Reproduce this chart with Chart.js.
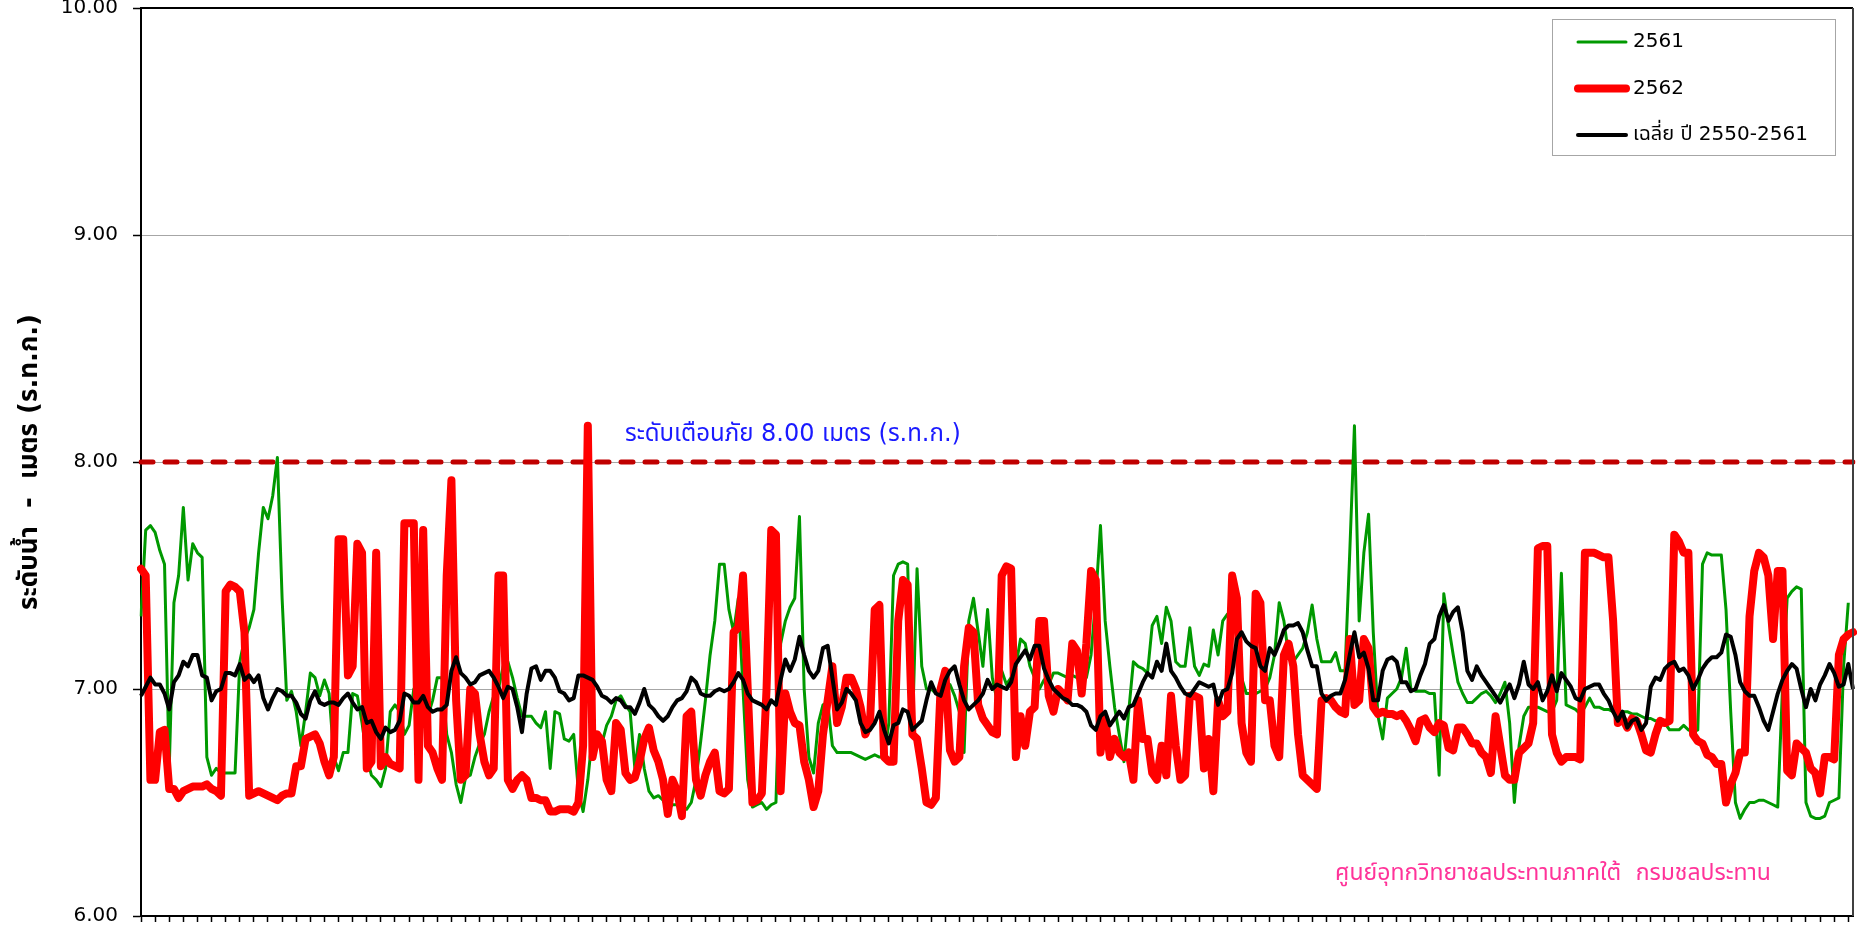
<!DOCTYPE html>
<html>
<head>
<meta charset="utf-8">
<script src="https://cdn.jsdelivr.net/npm/chart.js@4.4.1/dist/chart.umd.min.js"></script>
<style>
  html, body { margin: 0; padding: 0; background: #fff; }
  #wrap { width: 1859px; height: 929px; }
</style>
</head>
<body>
<div id="wrap"><canvas id="myChart" width="1859" height="929"></canvas></div>
<script>
// water level, one value per day (m, ร.ท.ก.)
const y2561 = [
	7.32, 7.70, 7.72, 7.69, 7.61, 7.55, 6.65, 7.38, 7.50, 7.80,
	7.48, 7.64, 7.60, 7.58, 6.70, 6.62, 6.65, 6.63, 6.63, 6.63,
	6.63, 7.12, 7.22, 7.27, 7.35, 7.60, 7.80, 7.75, 7.85, 8.02,
	7.40, 6.95, 6.99, 6.90, 6.75, 6.90, 7.07, 7.05, 6.97, 7.04,
	6.98, 6.70, 6.64, 6.72, 6.72, 6.98, 6.97, 6.85, 6.70, 6.62,
	6.60, 6.57, 6.65, 6.90, 6.93, 6.90, 6.80, 6.84, 7.00, 6.98,
	6.96, 6.88, 6.95, 7.05, 7.05, 6.80, 6.72, 6.58, 6.50, 6.61,
	6.62, 6.70, 6.76, 6.80, 6.90, 6.97, 7.00, 7.10, 7.12, 7.05,
	6.96, 6.88, 6.88, 6.88, 6.85, 6.83, 6.90, 6.65, 6.90, 6.89,
	6.78, 6.77, 6.80, 6.55, 6.46, 6.60, 6.80, 6.78, 6.76, 6.84,
	6.88, 6.95, 6.97, 6.93, 6.90, 6.65, 6.80, 6.65, 6.55, 6.52,
	6.53, 6.51, 6.47, 6.49, 6.49, 6.48, 6.47, 6.50, 6.60, 6.77,
	6.95, 7.15, 7.30, 7.55, 7.55, 7.35, 7.25, 7.40, 7.00, 6.60,
	6.48, 6.49, 6.50, 6.47, 6.49, 6.50, 7.20, 7.30, 7.36, 7.40,
	7.76, 7.00, 6.70, 6.63, 6.85, 6.93, 6.94, 6.75, 6.72, 6.72,
	6.72, 6.72, 6.71, 6.70, 6.69, 6.70, 6.71, 6.70, 6.70, 6.85,
	7.50, 7.55, 7.56, 7.55, 6.80, 7.53, 7.10, 7.00, 7.00, 6.98,
	6.98, 6.98, 7.02, 6.97, 6.90, 6.72, 7.30, 7.40, 7.25, 7.10,
	7.35, 7.05, 6.95, 7.08, 7.02, 7.05, 7.10, 7.22, 7.20, 7.10,
	7.05, 7.00, 7.04, 7.02, 7.07, 7.07, 7.06, 7.05, 7.06, 7.05,
	7.04, 7.05, 7.15, 7.40, 7.72, 7.30, 7.10, 6.92, 6.80, 6.68,
	6.90, 7.12, 7.10, 7.09, 7.07, 7.28, 7.32, 7.20, 7.36, 7.30,
	7.12, 7.10, 7.10, 7.27, 7.10, 7.06, 7.11, 7.10, 7.26, 7.15,
	7.30, 7.33, 7.33, 7.40, 7.05, 6.98, 6.98, 6.98, 6.99, 7.00,
	7.05, 7.15, 7.38, 7.30, 7.15, 7.12, 7.15, 7.18, 7.25, 7.37,
	7.22, 7.12, 7.12, 7.12, 7.16, 7.08, 7.08, 7.60, 8.16, 7.30,
	7.60, 7.77, 7.25, 6.88, 6.78, 6.96, 6.98, 7.00, 7.05, 7.18,
	7.00, 6.99, 6.99, 6.99, 6.98, 6.98, 6.62, 7.42, 7.28, 7.15,
	7.03, 6.98, 6.94, 6.94, 6.96, 6.98, 6.99, 6.97, 6.94, 6.98,
	7.03, 6.85, 6.50, 6.75, 6.88, 6.92, 6.92, 6.92, 6.91, 6.90,
	6.90, 6.95, 7.51, 6.93, 6.92, 6.91, 6.89, 6.92, 6.96, 6.92,
	6.92, 6.91, 6.91, 6.90, 6.90, 6.90, 6.90, 6.89, 6.89, 6.88,
	6.87, 6.87, 6.86, 6.86, 6.85, 6.82, 6.82, 6.82, 6.84, 6.82,
	6.81, 6.82, 7.55, 7.60, 7.59, 7.59, 7.59, 7.35, 6.90, 6.50,
	6.43, 6.47, 6.50, 6.50, 6.51, 6.51, 6.50, 6.49, 6.48, 7.00,
	7.40, 7.43, 7.45, 7.44, 6.50, 6.44, 6.43, 6.43, 6.44, 6.50,
	6.51, 6.52, 7.10, 7.38
];

const y2562 = [
	7.53, 7.50, 6.60, 6.60, 6.81, 6.82, 6.56, 6.56, 6.52, 6.55,
	6.56, 6.57, 6.57, 6.57, 6.58, 6.56, 6.55, 6.53, 7.43, 7.46,
	7.45, 7.43, 7.25, 6.53, 6.54, 6.55, 6.54, 6.53, 6.52, 6.51,
	6.53, 6.54, 6.54, 6.66, 6.66, 6.78, 6.79, 6.80, 6.76, 6.68,
	6.62, 6.70, 7.66, 7.66, 7.06, 7.10, 7.64, 7.60, 6.65, 6.68,
	7.60, 6.66, 6.70, 6.67, 6.66, 6.65, 7.73, 7.73, 7.73, 6.60,
	7.70, 6.75, 6.72, 6.65, 6.60, 7.50, 7.92, 6.95, 6.60, 6.62,
	7.00, 6.98, 6.80, 6.68, 6.62, 6.65, 7.50, 7.50, 6.60, 6.56,
	6.60, 6.62, 6.60, 6.52, 6.52, 6.51, 6.51, 6.46, 6.46, 6.47,
	6.47, 6.47, 6.46, 6.50, 6.75, 8.16, 6.70, 6.80, 6.77, 6.60,
	6.55, 6.85, 6.82, 6.63, 6.60, 6.61, 6.68, 6.78, 6.83, 6.73,
	6.68, 6.60, 6.45, 6.60, 6.55, 6.44, 6.88, 6.90, 6.60, 6.53,
	6.62, 6.68, 6.72, 6.55, 6.54, 6.56, 7.25, 7.27, 7.50, 7.00,
	6.50, 6.51, 6.54, 7.00, 7.70, 7.68, 6.55, 6.98, 6.90, 6.85,
	6.84, 6.68, 6.60, 6.48, 6.55, 6.80, 6.95, 7.10, 6.85, 6.92,
	7.05, 7.05, 7.00, 6.92, 6.80, 6.85, 7.35, 7.37, 6.70, 6.68,
	6.68, 7.30, 7.48, 7.46, 6.80, 6.78, 6.65, 6.50, 6.49, 6.52,
	7.00, 7.08, 6.73, 6.68, 6.70, 7.10, 7.27, 7.25, 6.93, 6.87,
	6.84, 6.81, 6.80, 7.50, 7.54, 7.53, 6.70, 6.88, 6.75, 6.90,
	6.92, 7.30, 7.30, 6.97, 6.90, 7.00, 6.98, 6.95, 7.20, 7.17,
	6.98, 7.20, 7.52, 7.48, 6.72, 6.87, 6.70, 6.78, 6.72, 6.70,
	6.72, 6.60, 6.95, 6.78, 6.78, 6.63, 6.60, 6.75, 6.62, 6.97,
	6.75, 6.60, 6.62, 6.97, 6.97, 6.96, 6.65, 6.78, 6.55, 6.95,
	6.88, 6.90, 7.50, 7.40, 6.85, 6.72, 6.68, 7.42, 7.38, 6.95,
	6.95, 6.75, 6.70, 7.15, 7.20, 7.10, 6.80, 6.62, 6.60, 6.58,
	6.56, 6.95, 6.96, 6.95, 6.92, 6.90, 6.89, 7.22, 6.93, 6.95,
	7.22, 7.18, 6.92, 6.89, 6.90, 6.89, 6.89, 6.88, 6.89, 6.86,
	6.82, 6.77, 6.86, 6.87, 6.83, 6.81, 6.85, 6.84, 6.74, 6.73,
	6.83, 6.83, 6.80, 6.76, 6.76, 6.72, 6.70, 6.63, 6.88, 6.75,
	6.62, 6.60, 6.60, 6.72, 6.74, 6.76, 6.85, 7.62, 7.63, 7.63,
	6.80, 6.72, 6.68, 6.70, 6.70, 6.70, 6.69, 7.60, 7.60, 7.60,
	7.59, 7.58, 7.58, 7.30, 6.85, 6.87, 6.83, 6.87, 6.86, 6.80,
	6.73, 6.72, 6.80, 6.86, 6.85, 6.86, 7.68, 7.65, 7.60, 7.60,
	6.80, 6.77, 6.76, 6.71, 6.70, 6.67, 6.67, 6.50, 6.58, 6.63,
	6.72, 6.72, 7.32, 7.52, 7.60, 7.58, 7.50, 7.22, 7.52, 7.52,
	6.64, 6.62, 6.76, 6.74, 6.72, 6.65, 6.63, 6.54, 6.70, 6.70,
	6.69, 7.15, 7.22, 7.24, 7.25
];

const yAvg = [
	6.97, 7.01, 7.05, 7.02, 7.02, 6.98, 6.91, 7.03, 7.06, 7.12,
	7.10, 7.15, 7.15, 7.06, 7.05, 6.95, 6.99, 7.00, 7.07, 7.07,
	7.06, 7.11, 7.04, 7.06, 7.03, 7.06, 6.96, 6.91, 6.96, 7.00,
	6.99, 6.97, 6.97, 6.94, 6.89, 6.87, 6.95, 6.99, 6.94, 6.93,
	6.94, 6.94, 6.93, 6.96, 6.98, 6.94, 6.91, 6.92, 6.85, 6.86,
	6.81, 6.78, 6.83, 6.81, 6.82, 6.86, 6.98, 6.97, 6.94, 6.94,
	6.97, 6.92, 6.90, 6.91, 6.91, 6.93, 7.08, 7.14, 7.07, 7.05,
	7.02, 7.03, 7.06, 7.07, 7.08, 7.05, 7.01, 6.96, 7.01, 7.00,
	6.92, 6.81, 6.98, 7.09, 7.10, 7.04, 7.08, 7.08, 7.05, 6.99,
	6.98, 6.95, 6.96, 7.06, 7.06, 7.05, 7.04, 7.01, 6.97, 6.96,
	6.94, 6.96, 6.95, 6.92, 6.92, 6.89, 6.94, 7.00, 6.93, 6.91,
	6.88, 6.86, 6.88, 6.92, 6.95, 6.96, 6.99, 7.05, 7.03, 6.98,
	6.97, 6.97, 6.99, 7.00, 6.99, 7.00, 7.03, 7.07, 7.04, 6.98,
	6.95, 6.94, 6.93, 6.91, 6.95, 6.93, 7.04, 7.13, 7.08, 7.13,
	7.23, 7.15, 7.08, 7.05, 7.08, 7.18, 7.19, 7.05, 6.91, 6.94,
	7.00, 6.98, 6.95, 6.85, 6.81, 6.82, 6.85, 6.90, 6.82, 6.76,
	6.84, 6.85, 6.91, 6.90, 6.82, 6.84, 6.86, 6.95, 7.03, 6.98,
	6.97, 7.04, 7.08, 7.10, 7.02, 6.95, 6.91, 6.93, 6.95, 6.98,
	7.04, 7.00, 7.02, 7.01, 7.00, 7.03, 7.11, 7.14, 7.17, 7.13,
	7.19, 7.19, 7.09, 7.04, 7.00, 6.98, 6.96, 6.95, 6.93, 6.93,
	6.92, 6.90, 6.84, 6.82, 6.88, 6.90, 6.84, 6.87, 6.90, 6.87,
	6.92, 6.93, 6.98, 7.03, 7.07, 7.05, 7.12, 7.08, 7.20, 7.08,
	7.05, 7.01, 6.98, 6.97, 7.00, 7.03, 7.02, 7.01, 7.02, 6.93,
	6.99, 7.00, 7.07, 7.22, 7.25, 7.21, 7.19, 7.18, 7.10, 7.08,
	7.18, 7.15, 7.20, 7.26, 7.28, 7.28, 7.29, 7.25, 7.17, 7.10,
	7.10, 6.98, 6.95, 6.97, 6.98, 6.98, 7.04, 7.15, 7.25, 7.14,
	7.16, 7.09, 6.95, 6.95, 7.08, 7.13, 7.14, 7.12, 7.03, 7.03,
	6.99, 7.00, 7.06, 7.11, 7.20, 7.22, 7.32, 7.37, 7.30, 7.34,
	7.36, 7.25, 7.08, 7.04, 7.10, 7.06, 7.03, 7.00, 6.97, 6.94,
	6.98, 7.02, 6.96, 7.02, 7.12, 7.02, 7.00, 7.03, 6.95, 6.99,
	7.06, 6.99, 7.07, 7.04, 7.01, 6.96, 6.95, 7.00, 7.01, 7.02,
	7.02, 6.98, 6.95, 6.90, 6.86, 6.90, 6.83, 6.86, 6.87, 6.82,
	6.85, 7.01, 7.05, 7.04, 7.09, 7.11, 7.12, 7.08, 7.09, 7.06,
	7.00, 7.04, 7.09, 7.12, 7.14, 7.14, 7.16, 7.24, 7.23, 7.15,
	7.03, 6.99, 6.97, 6.97, 6.92, 6.86, 6.82, 6.90, 6.98, 7.04,
	7.08, 7.11, 7.09, 7.00, 6.92, 7.00, 6.95, 7.02, 7.06, 7.11,
	7.07, 7.01, 7.02, 7.11, 7.00
];

const days = yAvg.map((v, i) => i + 1);
const warningLevel = 8.00;
const yTicks = [6, 7, 8, 9, 10];

const seriesNames = ["2561", "2562", "เฉลี่ย ปี 2550-2561"];
const warningText = "ระดับเตือนภัย 8.00 เมตร (ร.ท.ก.)";
const sourceText = "ศูนย์อุทกวิทยาชลประทานภาคใต้  กรมชลประทาน";
const yTitle = "ระดับน้ำ  -  เมตร (ร.ท.ก.)";

const FONT = "'DejaVu Sans', 'Noto Sans Thai', 'Noto Sans', sans-serif";
Chart.defaults.font.family = FONT;
Chart.defaults.color = "#000";

// legend box, warning label, source label and the top/right frame
const overlay = {
	id: 'overlay',
	afterDatasetsDraw(chart) {
		const { ctx, chartArea: a, scales } = chart;
		ctx.save();

		ctx.lineWidth = 2;
		ctx.strokeStyle = "#000";
		ctx.beginPath();
		ctx.moveTo(a.left, a.top);
		ctx.lineTo(a.right, a.top);
		ctx.stroke();
		ctx.strokeStyle = "#404040";
		ctx.beginPath();
		ctx.moveTo(a.right, a.top);
		ctx.lineTo(a.right, a.bottom);
		ctx.stroke();

		ctx.textBaseline = "middle";
		ctx.textAlign = "left";
		ctx.font = "24px " + FONT;
		ctx.fillStyle = "#1a1aff";
		ctx.fillText(warningText, 625, scales.y.getPixelForValue(warningLevel) - 27);

		ctx.font = "23px " + FONT;
		ctx.fillStyle = "#ff3399";
		ctx.fillText(sourceText, 1335, 874);

		// legend
		ctx.fillStyle = "#fff";
		ctx.fillRect(1552, 19, 283, 136);
		ctx.strokeStyle = "#a6a6a6";
		ctx.lineWidth = 1;
		ctx.strokeRect(1552.5, 19.5, 283, 136);
		[0, 1, 2].forEach((k, row) => {
			const ds = chart.data.datasets.find(d => d.label === seriesNames[k]);
			const yy = 42 + row * 46.5;
			ctx.strokeStyle = ds.borderColor;
			ctx.lineWidth = ds.borderWidth;
			ctx.lineCap = "round";
			ctx.beginPath();
			ctx.moveTo(1578, yy);
			ctx.lineTo(1626, yy);
			ctx.stroke();
			ctx.fillStyle = "#000";
			ctx.font = "20px " + FONT;
			ctx.fillText(ds.label, 1633, yy);
		});
		ctx.restore();
	}
};

const ctx = document.getElementById('myChart');

new Chart(ctx, {
	type: 'line',
	data: {
		labels: days,
		datasets: [
			{
				label: seriesNames[2],
				data: yAvg,
				borderColor: "#000000",
				borderWidth: 4,
				pointRadius: 0,
				borderJoinStyle: "round",
				order: 0
			},
			{
				label: seriesNames[1],
				data: y2562,
				borderColor: "#ff0000",
				borderWidth: 8,
				pointRadius: 0,
				borderJoinStyle: "round",
				borderCapStyle: "round",
				order: 1
			},
			{
				label: seriesNames[0],
				data: y2561,
				borderColor: "#009900",
				borderWidth: 3,
				pointRadius: 0,
				borderJoinStyle: "round",
				order: 2
			},
			{
				label: "warning",
				data: days.map(() => warningLevel),
				borderColor: "#c00000",
				borderWidth: 5,
				borderDash: [12, 12],
				borderCapStyle: "round",
				pointRadius: 0,
				order: 3
			}
		]
	},
	options: {
		responsive: false,
		animation: false,
		devicePixelRatio: 1,
		layout: { padding: { top: 8, right: 6, bottom: 0, left: 0 } },
		plugins: {
			legend: { display: false },
			tooltip: { enabled: false }
		},
		scales: {
			x: {
				type: 'category',
				offset: false,
				afterFit: (s) => { s.height = 13; s.paddingLeft = 0; s.paddingRight = 0; },
				grid: {
					drawOnChartArea: false,
					drawTicks: true,
					tickLength: 6,
					tickColor: "#000",
					tickWidth: 1.5
				},
				border: { color: "#000", width: 2 },
				ticks: {
					autoSkip: false,
					maxRotation: 0,
					padding: 0,
					callback: (v, i) => (i % 3 === 0 ? "" : null)
				}
			},
			y: {
				min: 6,
				max: 10,
				afterFit: (s) => { s.width = 141; s.paddingTop = 0; s.paddingBottom = 0; },
				afterBuildTicks: (s) => { s.ticks = yTicks.map(v => ({ value: v })); },
				grid: {
					color: (c) => (c.tick && (c.tick.value === 6 || c.tick.value === 10) ? "rgba(0,0,0,0)" : "#a6a6a6"),
					lineWidth: 1,
					tickLength: 8,
					tickColor: "#000",
					tickWidth: 1.5
				},
				border: { color: "#000", width: 2 },
				ticks: {
					padding: 15,
					font: { size: 20 },
					color: "#000",
					callback: (v) => Number(v).toFixed(2)
				},
				title: {
					display: true,
					text: yTitle,
					font: { size: 26, weight: "bold" },
					padding: { top: 15, bottom: 0 },
					color: "#000"
				}
			}
		}
	},
	plugins: [overlay]
});
</script>
</body>
</html>
